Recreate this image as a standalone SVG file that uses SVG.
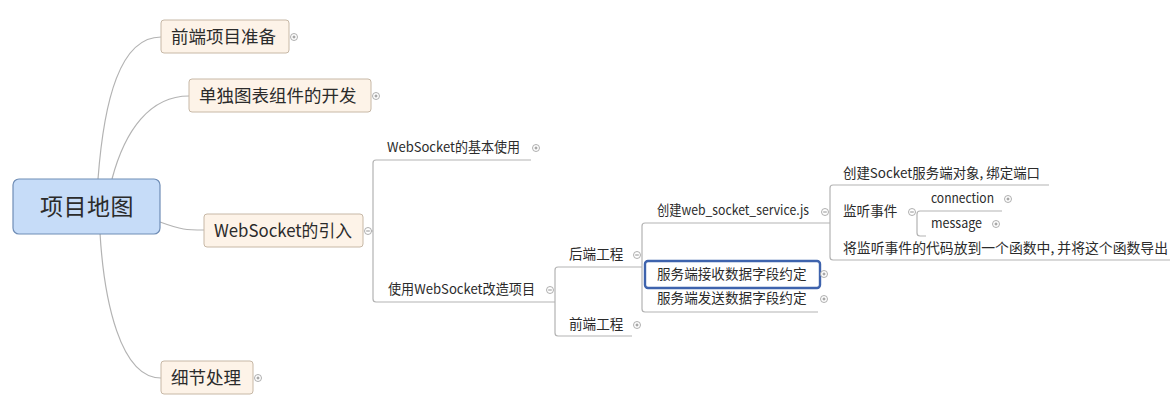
<svg xmlns="http://www.w3.org/2000/svg" width="1176" height="410" viewBox="0 0 1176 410">
<defs>
<style>
text{font-family:"Noto Sans CJK SC","Open Sans",sans-serif;fill:#2b2b2b}
.t1{font-size:17.5px}
.t2{font-size:13.6px}
.root-t{font-size:23px;letter-spacing:0.5px}
.box{fill:#fdf3e8;stroke:#c7b8a6;stroke-width:1}
.root{fill:#c6dcf8;stroke:#6f8db6;stroke-width:1.2}
.ln{fill:none;stroke:#b3b3b3;stroke-width:1.2}
.sel{fill:#fff;stroke:#3e63ad;stroke-width:2.4}
</style>
<g id="plus"><circle cx="0" cy="0" r="3.5" fill="#ffffff" stroke="#9a9a9a" stroke-width="0.8"/><path d="M-1.5,0H1.5M0,-1.5V1.5" stroke="#777" stroke-width="0.8" fill="none"/></g>
<g id="minus"><circle cx="0" cy="0" r="3.5" fill="#ffffff" stroke="#9a9a9a" stroke-width="0.8"/><path d="M-1.8,0H1.8" stroke="#777" stroke-width="0.8" fill="none"/></g>
</defs>
<rect width="1176" height="410" fill="#ffffff"/>

<g id="connectors">
<path class="ln" d="M98,179 C104,100 120,37 161,37"/>
<path class="ln" d="M112,179 C125,130 150,96 189,96"/>
<path class="ln" d="M160,222 C182,230 186,230 204,230"/>
<path class="ln" d="M100,233 C104,300 120,378 161,378"/>
<path class="ln" d="M371,231 H373"/>
<path class="ln" d="M531,160 H376 Q373,160 373,163 V299 Q373,302 376,302 H555"/>
<path class="ln" d="M642,267 H558 Q555,267 555,270 V333 Q555,336 558,336 H632"/>
<path class="ln" d="M830,223 H645 Q642,223 642,226 V309 Q642,312 645,312 H818"/>
<path class="ln" d="M1049,185 H833 Q830,185 830,188 V257 Q830,260 833,260 H1170"/>
<path class="ln" d="M1002,211 H920 Q917,211 917,214 V233 Q917,236 920,236 H926"/>
</g>

<g id="root">
<rect class="root" x="13" y="179" width="147" height="55" rx="6"/>
<text class="root-t" x="87" y="215" text-anchor="middle">项目地图</text>
</g>

<g id="n-frontprep">
<rect class="box" x="161" y="20" width="128" height="33" rx="3"/>
<text class="t1" x="171" y="43">前端项目准备</text>
<use href="#plus" x="294" y="37"/>
</g>

<g id="n-chart">
<rect class="box" x="189" y="79" width="182" height="33" rx="3"/>
<text class="t1" x="199" y="102">单独图表组件的开发</text>
<use href="#plus" x="376" y="96"/>
</g>

<g id="n-ws">
<rect class="box" x="204" y="214" width="159" height="33" rx="3"/>
<text class="t1" x="214" y="237" textLength="138" lengthAdjust="spacingAndGlyphs">WebSocket的引入</text>
<use href="#minus" x="368" y="231"/>
</g>

<g id="n-detail">
<rect class="box" x="161" y="361" width="92" height="33" rx="3"/>
<text class="t1" x="171" y="384">细节处理</text>
<use href="#plus" x="258" y="378"/>
</g>

<g id="n-wsbasic">
<text class="t2" x="387" y="152" textLength="133" lengthAdjust="spacingAndGlyphs">WebSocket的基本使用</text>
<use href="#plus" x="536" y="148"/>
</g>

<g id="n-wsrefactor">
<text class="t2" x="388" y="294" textLength="147" lengthAdjust="spacingAndGlyphs">使用WebSocket改造项目</text>
<use href="#minus" x="550" y="290"/>
</g>

<g id="n-backend">
<text class="t2" x="569" y="259">后端工程</text>
<use href="#minus" x="637" y="255"/>
</g>

<g id="n-frontend">
<text class="t2" x="569" y="329">前端工程</text>
<use href="#plus" x="637" y="325"/>
</g>

<g id="n-createjs">
<text class="t2" x="657" y="215" textLength="152" lengthAdjust="spacingAndGlyphs">创建web_socket_service.js</text>
<use href="#minus" x="825" y="212"/>
</g>

<g id="n-recv">
<rect class="sel" x="645" y="261" width="175" height="27" rx="3"/>
<text class="t2" x="657" y="279">服务端接收数据字段约定</text>
<use href="#plus" x="824" y="274"/>
</g>

<g id="n-send">
<text class="t2" x="657" y="303">服务端发送数据字段约定</text>
<use href="#plus" x="824" y="299"/>
</g>

<g id="n-createsock">
<text class="t2" x="843" y="178" textLength="197" lengthAdjust="spacingAndGlyphs">创建Socket服务端对象, 绑定端口</text>
</g>

<g id="n-listen">
<text class="t2" x="843" y="216">监听事件</text>
<use href="#minus" x="912" y="212"/>
</g>

<g id="n-connection">
<text class="t2" x="931" y="203" textLength="63" lengthAdjust="spacingAndGlyphs">connection</text>
<use href="#plus" x="1008" y="199"/>
</g>

<g id="n-message">
<text class="t2" x="931" y="228" textLength="51" lengthAdjust="spacingAndGlyphs">message</text>
<use href="#plus" x="996" y="224"/>
</g>

<g id="n-export">
<text class="t2" x="843" y="253" textLength="325" lengthAdjust="spacingAndGlyphs">将监听事件的代码放到一个函数中, 并将这个函数导出</text>
</g>
</svg>
